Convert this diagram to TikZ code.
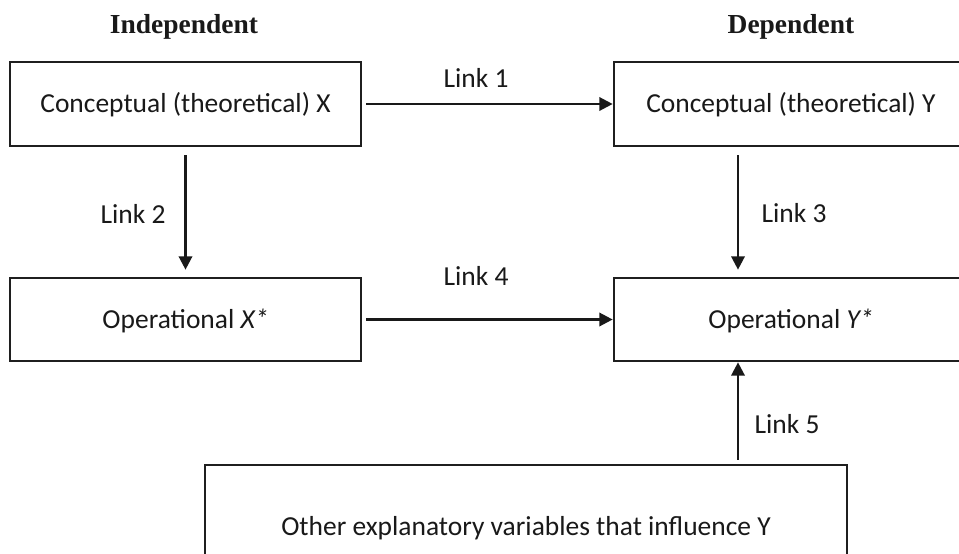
\documentclass[tikz,border=0pt]{standalone}
\usepackage{fontspec}
\setmainfont{Carlito}
\newfontfamily\headfont{Liberation Serif}
\usetikzlibrary{arrows.meta,calc}

\begin{document}
\begin{tikzpicture}[
  x=0.75pt, y=-0.75pt,
  every node/.style={font=\fontsize{20.6pt}{24pt}\selectfont, text=black!90},
  varbox/.style={draw=black!88, line width=2pt, rectangle, inner sep=0pt,
    text height=13.3pt, text depth=0pt},
  head/.style={font=\headfont\bfseries\fontsize{20.6pt}{24pt}\selectfont, anchor=base},
  linklabel/.style={anchor=base},
  link/.style={draw=black!90, line width=1.8pt,
    -{Triangle[length=10pt, width=10pt]}}
]
\useasboundingbox (0,0) rectangle (959,553);
\fill[white] (0,0) rectangle (959,553);
\clip (0,0) rectangle (959,553);

% column headings
\node[head] (hind) at (184,33) {Independent};
\node[head] (hdep) at (791,33) {Dependent};

% variable boxes (sizes in pt: one unit of the grid is 0.75pt)
\node[varbox, minimum width=263.25pt, minimum height=63pt] (cx) at (185.5,104)
  {Conceptual (theoretical) X};
\node[varbox, minimum width=265.5pt, minimum height=63pt] (cy) at (791,104)
  {Conceptual (theoretical) Y};
\node[varbox, minimum width=263.25pt, minimum height=62.25pt] (ox) at (185.5,319.5)
  {Operational \textit{X*}};
\node[varbox, minimum width=265.5pt, minimum height=62.25pt] (oy) at (791,319.5)
  {Operational \textit{Y*}};
\node[varbox, minimum width=481.5pt, minimum height=93pt] (other) at (526,527)
  {Other explanatory variables that influence Y};

% links between the variables
\draw[link] ($(cx.east)+(4,0)$) -- (cy.west);
\draw[link] ($(ox.east)+(4,0)$) -- (ox.east -| cy.west);
\draw[link] ($(cx.south)+(0,8)$) -- ($(ox.north)+(0,-7)$);
\coordinate (l3top) at ($(cy.south)+(-53,8)$);
\coordinate (l3end) at ($(oy.north)+(-53,-7)$);
\draw[link] (l3top) -- (l3end);
\coordinate (l5start) at (other.north -| l3top);
\coordinate (l5end) at (oy.south -| l3top);
\draw[link] ($(l5start)+(0,-4)$) -- (l5end);

% link labels
\node[linklabel] (t1) at (476,87) {Link 1};
\node[linklabel] (t2) at (133,223) {Link 2};
\node[linklabel] (t3) at (794,222) {Link 3};
\node[linklabel] (t4) at (476,285) {Link 4};
\node[linklabel] (t5) at (787,433) {Link 5};
\end{tikzpicture}
\end{document}
